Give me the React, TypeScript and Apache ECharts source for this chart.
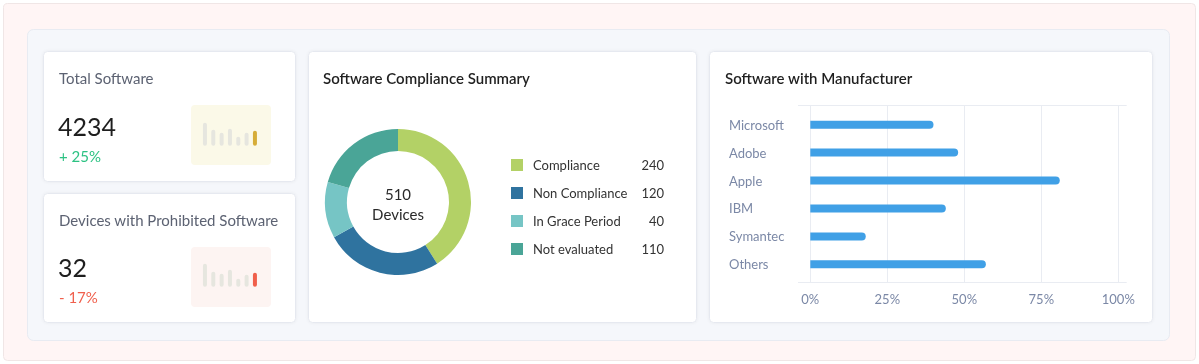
import React, { useEffect, useRef } from "react";
import * as echarts from "echarts";

// ---- data ----
const totalSoftware = "4234";
const totalSoftwareChange = "+ 25%";
const prohibitedDevices = "32";
const prohibitedChange = "- 17%";
const sparkTotal = [23, 16, 13, 17, 9, 13, 15];
const sparkProhibited = [23, 15, 13, 17, 8, 12, 14];

const complianceNames = ["Compliance", "Non Compliance", "In Grace Period", "Not evaluated"];
const complianceCounts = [240, 120, 40, 110];
const ringShare = [41, 26, 12.4, 20.6];
const complianceColors = ["#b3d166", "#2f739f", "#76c5c5", "#4aa597"];
const totalDevices = "510";

const manufacturers = ["Microsoft", "Adobe", "Apple", "IBM", "Symantec", "Others"];
const manufacturerShare = [40, 48, 81, 44, 18, 57];
const percentTicks = [0, 25, 50, 75, 100];

const FONT = "Lato";
const H = 364;

export default function App() {
  const ref = useRef<HTMLDivElement>(null);
  useEffect(() => {
    if (!ref.current) return;
    const chart = echarts.init(ref.current, undefined, { renderer: "svg" });

    const card = (x: number, y: number, w: number, h: number) => ({
      type: "rect",
      shape: { x: x + 0.5, y: y + 0.5, width: w, height: h, r: 4 },
      style: { fill: "#ffffff", stroke: "#e6e9f0", lineWidth: 1, shadowBlur: 3, shadowColor: "rgba(40,50,80,0.06)" },
    });
    const txt = (x: number, y: number, text: string, size: number, color: string, weight: any = "normal", align = "left") => ({
      type: "text",
      x,
      y,
      style: { text, fontFamily: FONT, fontSize: size, fill: color, fontWeight: weight, textAlign: align, textVerticalAlign: "middle" },
    });

    const sparkSeries = (vals: number[], hi: string, idx: number) => ({
      type: "bar",
      xAxisIndex: idx,
      yAxisIndex: idx,
      barWidth: 4,
      silent: true,
      data: vals.map((v, i) => ({
        value: v,
        itemStyle: { color: i === vals.length - 1 ? hi : "#e6e6df", borderRadius: 2 },
      })),
    });

    chart.setOption({
      animation: false,
      textStyle: { fontFamily: FONT },
      graphic: [
        { type: "rect", shape: { x: 3.5, y: 3.5, width: 1192, height: 357, r: 4 }, style: { fill: "#fff5f5", stroke: "#f0e6e6", lineWidth: 1 } },
        { type: "rect", shape: { x: 27.5, y: 29.5, width: 1142, height: 311, r: 6 }, style: { fill: "#f5f7fb", stroke: "#e8ebf2", lineWidth: 1 } },
        card(43, 51, 252, 130),
        card(43, 193, 252, 129),
        card(308, 51, 388, 271),
        card(709, 51, 443, 271),
        { type: "rect", shape: { x: 191, y: 105, width: 80, height: 60, r: 4 }, style: { fill: "#fbf9e8" } },
        { type: "rect", shape: { x: 191, y: 247, width: 80, height: 60, r: 4 }, style: { fill: "#fdf4f2" } },
        txt(59, 78, "Total Software", 15, "#5c6272"),
        txt(58, 126, totalSoftware, 25, "#1e1e1e"),
        txt(59, 156, totalSoftwareChange, 15, "#2dc283"),
        txt(59, 220, "Devices with Prohibited Software", 15, "#5c6272"),
        txt(58, 267, prohibitedDevices, 25, "#1e1e1e"),
        txt(59, 297, prohibitedChange, 15, "#f0604d"),
        txt(323, 78, "Software Compliance Summary", 15, "#1f1f1f", 600),
        txt(725, 78, "Software with Manufacturer", 15, "#1f1f1f", 600),
        txt(398, 194, totalDevices, 15, "#2a2a2a", "normal", "center"),
        txt(398, 214, "Devices", 15, "#2a2a2a", "normal", "center"),
      ],
      legend: {
        orient: "vertical",
        left: 511,
        top: 158.5,
        padding: 0,
        itemWidth: 12,
        itemHeight: 12,
        itemGap: 15,
        icon: "rect",
        selectedMode: false,
        data: complianceNames,
        formatter: (name: string) => {
          const i = complianceNames.indexOf(name);
          return `{n|${name}}{v|${complianceCounts[i]}}`;
        },
        textStyle: {
          rich: {
            n: { width: 100, fontSize: 13, color: "#333", fontFamily: FONT, padding: [0, 0, 0, 5], lineHeight: 12 },
            v: { width: 31, align: "right", fontSize: 13, color: "#333", fontFamily: FONT, lineHeight: 12 },
          },
        },
      },
      grid: [
        { left: 200.8, width: 58.3, top: 115.7, height: 30 },
        { left: 200.8, width: 58.3, top: 256.7, height: 30 },
        { left: 810.3, right: 1199 - 1118.3, top: 105.5, bottom: H - 282.5 },
        { left: 810.3, right: 1199 - 1118.3, top: 110.7, bottom: H - 278.3 },
        { left: 798, right: 1199 - 1126.7, top: 105.5, bottom: H - 282.5 },
      ],
      xAxis: [
        { gridIndex: 0, type: "category", data: sparkTotal.map((_, i) => i), show: false },
        { gridIndex: 1, type: "category", data: sparkProhibited.map((_, i) => i), show: false },
        {
          gridIndex: 2,
          type: "value",
          min: percentTicks[0],
          max: percentTicks[percentTicks.length - 1],
          interval: 25,
          axisLine: { show: false },
          axisTick: { show: false },
          splitLine: { show: true, lineStyle: { color: "#e9ecf2", width: 1 } },
          axisLabel: { formatter: "{value}%", color: "#7b88a6", fontSize: 13, fontFamily: FONT, margin: 10 },
        },
        { gridIndex: 3, type: "value", min: 0, max: 100, show: false },
        { gridIndex: 4, type: "value", min: 0, max: 1, show: false },
      ],
      yAxis: [
        { gridIndex: 0, type: "value", min: 0, max: 30, show: false },
        { gridIndex: 1, type: "value", min: 0, max: 30, show: false },
        { gridIndex: 2, type: "value", min: 0, max: 1, show: false },
        {
          gridIndex: 3,
          type: "category",
          inverse: true,
          data: manufacturers,
          axisLine: { show: false },
          axisTick: { show: false },
          splitLine: { show: false },
          axisLabel: { align: "left", margin: 81.3, color: "#7b88a6", fontSize: 13, fontFamily: FONT },
        },
        {
          gridIndex: 4,
          type: "value",
          min: 0,
          max: 1,
          interval: 1,
          axisLine: { show: false },
          axisTick: { show: false },
          axisLabel: { show: false },
          splitLine: { show: true, lineStyle: { color: "#e9ecf2", width: 1 } },
        },
      ],
      series: [
        sparkSeries(sparkTotal, "#d6ad38", 0),
        sparkSeries(sparkProhibited, "#f05f4b", 1),
        {
          type: "bar",
          xAxisIndex: 3,
          yAxisIndex: 3,
          barWidth: 8,
          silent: true,
          data: manufacturerShare,
          itemStyle: { color: "#40a0e6", borderRadius: [0, 4, 4, 0] },
        },
        {
          type: "pie",
          center: [398, 202],
          radius: [51, 73],
          startAngle: 90,
          clockwise: true,
          silent: true,
          label: { show: false },
          labelLine: { show: false },
          emphasis: { disabled: true },
          data: complianceNames.map((n, i) => ({ name: n, value: ringShare[i], itemStyle: { color: complianceColors[i] } })),
        },
      ],
    });
    return () => chart.dispose();
  }, []);
  return <div ref={ref} style={{ position: "fixed", left: 0, top: 0, width: 1199, height: 364 }} />;
}
